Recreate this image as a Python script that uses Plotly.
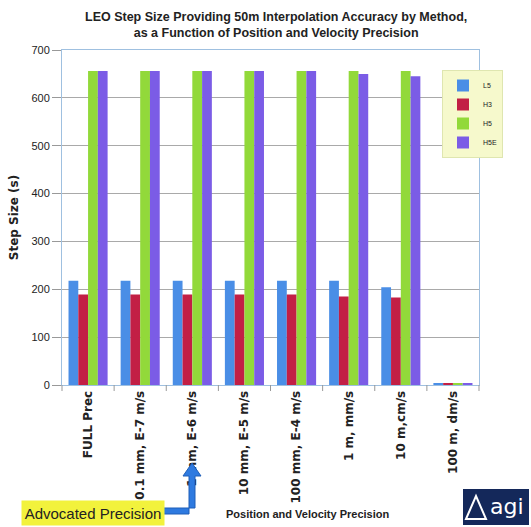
import plotly.graph_objects as go

# ----------------------------- DONNÉES ----------------------------- #
categories = ["FULL Prec", "0.1 mm, E-7 m/s", "1 mm, E-6 m/s", "10 mm, E-5 m/s",
              "100 mm, E-4 m/s", "1 m, mm/s", "10 m,cm/s", "100 m, dm/s"]
l5 = [218, 218, 218, 218, 218, 218, 204, 3]
h3 = [189, 189, 189, 189, 189, 185, 183, 3]
h5 = [656, 656, 656, 656, 656, 656, 656, 3]
h5e = [656, 656, 656, 656, 656, 650, 645, 3]

series = [("L5", l5, "#4a8ee6"), ("H3", h3, "#c21f45"),
          ("H5", h5, "#92d93a"), ("H5E", h5e, "#7b5ce6")]

# Position du cadre du graphique (pixels)
L, R, T, B = 62, 479, 50, 385
W, H = 531, 527
FONT = "Liberation Sans Narrow, Liberation Sans, Arial"


def px(x):
    return (x - L) / (R - L)


def py(y):
    return (B - y) / (B - T)


fig = go.Figure()
for name, vals, color in series:
    fig.add_trace(go.Bar(x=categories, y=vals, name=name,
                         marker=dict(color=color, line=dict(width=0))))

fig.update_layout(
    width=W, height=H,
    margin=dict(l=L, r=W - R, t=T, b=H - B),
    barmode="group", bargap=0.25, bargroupgap=0,
    paper_bgcolor="white", plot_bgcolor="white",
    font=dict(family=FONT, color="#222"),
    legend=dict(x=px(442), y=py(70), xanchor="left", yanchor="top",
                bgcolor="#f6f9cc", bordercolor="#dfe6b0", borderwidth=1,
                font=dict(size=7), itemwidth=30, tracegroupgap=4,
                traceorder="normal"),
    showlegend=True,
)

# Titre (annotation pour caler les deux lignes)
fig.add_annotation(text="<b>LEO Step Size Providing 50m Interpolation Accuracy by Method,<br>"
                        "as a Function of Position and Velocity Precision</b>",
                   xref="paper", yref="paper", x=px(276), y=py(8),
                   xanchor="center", yanchor="top", showarrow=False,
                   font=dict(size=12.5, family=FONT, color="#222"))

fig.update_yaxes(range=[0, 700], dtick=100, showgrid=True, gridcolor="#a9a9a9",
                 gridwidth=1, zeroline=False, showline=True, linecolor="#9fc0e0",
                 mirror=True, ticks="outside", ticklen=9, tickcolor="#999",
                 tickfont=dict(size=11, family=FONT),
                 title=dict(text="<b>Step Size (s)</b>", font=dict(size=12, family="DejaVu Sans"),
                            standoff=10))
fig.update_xaxes(showline=True, linecolor="#9fc0e0", mirror=True, tickangle=-90,
                 ticks="outside", ticklen=0,
                 tickfont=dict(size=12, family="DejaVu Sans", color="#222"),
                 tickprefix="<b>", ticksuffix="</b>")

# Graduations entre catégories
for i in range(len(categories) + 1):
    fig.add_shape(type="line", xref="paper", yref="paper",
                  x0=i / len(categories), x1=i / len(categories),
                  y0=0, y1=-0.018, line=dict(color="#999", width=1))

# Titre de l'axe X
fig.add_annotation(text="<b>Position and Velocity Precision</b>", xref="paper", yref="paper",
                   x=px(307), y=py(514), xanchor="center", yanchor="middle", showarrow=False,
                   font=dict(size=11, family=FONT))

# Flèche vers la précision recommandée
fig.add_shape(type="path", xref="paper", yref="paper",
              path=f"M {px(160)} {py(508)} L {px(195)} {py(508)} L {px(195)} {py(476)} "
                   f"L {px(201)} {py(476)} L {px(192)} {py(463)} L {px(183)} {py(476)} "
                   f"L {px(189)} {py(476)} L {px(189)} {py(514)} L {px(160)} {py(514)} Z",
              fillcolor="#2e7ae0", line=dict(color="#1f5fb8", width=1))

# Encadré "Advocated Precision"
fig.add_annotation(text="Advocated Precision", xref="paper", yref="paper",
                   x=px(93), y=py(513), xanchor="center", yanchor="middle",
                   showarrow=False, bgcolor="#f2f23c",
                   width=140, height=22,
                   font=dict(size=15, family=FONT, color="#222"))

# Logo agi
fig.add_shape(type="rect", xref="paper", yref="paper",
              x0=px(463), x1=px(529), y0=py(525), y1=py(489),
              fillcolor="#14285a", line=dict(width=0))
fig.add_shape(type="path", xref="paper", yref="paper",
              path=f"M {px(466)} {py(519)} L {px(476)} {py(496)} L {px(486)} {py(519)} Z",
              fillcolor="rgba(0,0,0,0)", line=dict(color="white", width=2))
fig.add_annotation(text="agi", xref="paper", yref="paper", x=px(507), y=py(506),
                   xanchor="center", yanchor="middle",
                   showarrow=False, font=dict(size=22, color="white", family="DejaVu Sans"))

# Marge du body à zéro pour caler la figure sur la fenêtre
fig.write_html("out.html", config={"displayModeBar": False},
               post_script="document.body.style.margin='0';")
